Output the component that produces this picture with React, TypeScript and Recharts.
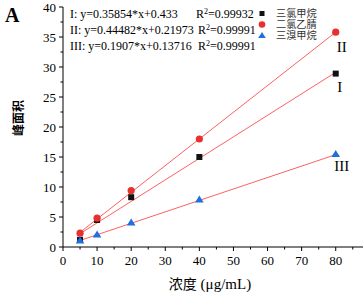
import React from "react";
import { ComposedChart, Scatter, XAxis, YAxis, Customized, LabelList } from "recharts";

const concentrations = [5, 10, 20, 40, 80];
const seriesI = [1.2, 4.5, 8.3, 15.0, 28.9];
const seriesII = [2.3, 4.8, 9.4, 18.0, 35.8];
const seriesIII = [1.1, 2.1, 4.1, 7.9, 15.5];
const seriesNames = ["三氯甲烷", "二氯乙腈", "三溴甲烷"];
const romanLabels = ["I", "II", "III"];
const equations = ["I: y=0.35854*x+0.433", "II: y=0.44482*x+0.21973", "III: y=0.1907*x+0.13716"];
const r2Values = ["0.99932", "0.99991", "0.99991"];
const slopes = [0.35854, 0.44482, 0.1907];
const intercepts = [0.433, 0.21973, 0.13716];
const fitRange = [5, 80];
const xTicks = [0, 5, 10, 15, 20, 25, 30, 35, 40, 45, 50, 55, 60, 65, 70, 75, 80, 85];
const yTicks = [0, 2.5, 5, 7.5, 10, 12.5, 15, 17.5, 20, 22.5, 25, 27.5, 30, 32.5, 35, 37.5, 40];

const SERIF = "'Liberation Serif', 'Times New Roman', serif";
const CJK = "'Noto Sans CJK SC', sans-serif";
const LINE_COLOR = "#ff6060";
const COLORS = ["#111111", "#e8312f", "#1f6fdc"];

const toPoints = (vals: number[]) => concentrations.map((x, i) => ({ x, y: vals[i] }));
const fitPoints = (k: number) => fitRange.map((x) => ({ x, y: slopes[k] * x + intercepts[k] }));

const Square = (p: any) => <rect x={p.cx - 3} y={p.cy - 3} width={6} height={6} fill={COLORS[0]} />;
const Circle = (p: any) => <circle cx={p.cx} cy={p.cy} r={3.6} fill={COLORS[1]} />;
const Triangle = (p: any) => (
  <path d={`M${p.cx},${p.cy - 4} L${p.cx + 4.3},${p.cy + 3} L${p.cx - 4.3},${p.cy + 3} Z`} fill={COLORS[2]} />
);
const NoShape = () => null;

const XTick = (props: any) => {
  const { x, y, payload } = props;
  const major = payload.value % 10 === 0;
  return (
    <g>
      <line x1={x} x2={x} y1={y} y2={y + (major ? 4 : 2.5)} stroke="#000" strokeWidth={1} />
      {major && payload.value <= 80 && (
        <text x={x} y={y + 18} textAnchor="middle" fontFamily={SERIF} fontSize={13} fill="#000">
          {payload.value}
        </text>
      )}
    </g>
  );
};

const YTick = (props: any) => {
  const { x, y, payload } = props;
  const major = payload.value % 5 === 0;
  return (
    <g>
      <line x1={x} x2={x - (major ? 4 : 2.5)} y1={y} y2={y} stroke="#000" strokeWidth={1} />
      {major && (
        <text x={x - 7} y={y + 4.5} textAnchor="end" fontFamily={SERIF} fontSize={13} fill="#000">
          {payload.value}
        </text>
      )}
    </g>
  );
};

const makeEndLabel = (k: number, dx: number, dy: number) => (props: any) => {
  const { x, y, index, width, height } = props;
  if (index !== concentrations.length - 1) return null;
  const cx = x + (width || 0) / 2;
  const cy = y + (height || 0) / 2;
  return (
    <text x={cx + dx} y={cy + dy} textAnchor="middle" fontFamily={SERIF} fontSize={15} fill="#000">
      {romanLabels[k]}
    </text>
  );
};

const Overlay = () => {
  const eqY = [17.5, 33.5, 50];
  const legY = [13.5, 24.5, 35.5];
  return (
    <g>
      <text x={5} y={22} fontFamily={SERIF} fontSize={20} fontWeight="bold" fill="#000">A</text>
      {equations.map((e, i) => (
        <text key={"e" + i} x={70} y={eqY[i]} fontFamily={SERIF} fontSize={12} fill="#000">{e}</text>
      ))}
      {r2Values.map((r, i) => (
        <text key={"r" + i} x={i === 0 ? 196 : 198} y={eqY[i]} fontFamily={SERIF} fontSize={12} fill="#000">
          R<tspan dy={-4} fontSize={8}>2</tspan><tspan dy={4}>={r}</tspan>
        </text>
      ))}
      <rect x={259.5} y={legY[0] - 2.5} width={5} height={5} fill={COLORS[0]} />
      <circle cx={262} cy={legY[1]} r={3.3} fill={COLORS[1]} />
      <path d={`M262,${legY[2] - 3.5} L265.8,${legY[2] + 2.5} L258.2,${legY[2] + 2.5} Z`} fill={COLORS[2]} />
      <text fontFamily={CJK} fontSize={10.2} fill="#333">
        {seriesNames.map((n, i) => (
          <tspan key={"n" + i} x={276} y={legY[i] + 3.8}>{n}</tspan>
        ))}
      </text>
      <text
        x={17}
        y={118}
        transform="rotate(-90 17 118)"
        textAnchor="middle"
        dominantBaseline="central"
        fontFamily={CJK}
        fontSize={12}
        fontWeight="bold"
        fill="#000"
      >
        峰面积
      </text>
      <text x={210} y={289} textAnchor="middle" fontFamily={SERIF} fontSize={15} fill="#000">
        <tspan fontFamily={CJK} fontSize={14}>浓度</tspan> (μg/mL)
      </text>
    </g>
  );
};

export default function App() {
  return (
    <div style={{ position: "absolute", left: 0, top: 0, width: 364, height: 292, background: "#fff" }}>
      <ComposedChart width={364} height={292} margin={{ top: 7, right: 1, bottom: 0, left: 0 }}>
        <XAxis
          type="number"
          dataKey="x"
          domain={[0, 88]}
          ticks={xTicks}
          interval={0}
          height={45}
          tickSize={0}
          tickMargin={0}
          tickLine={false}
          tick={<XTick />}
          axisLine={{ stroke: "#000", strokeWidth: 1 }}
          allowDataOverflow
        />
        <YAxis
          type="number"
          dataKey="y"
          domain={[0, 40]}
          ticks={yTicks}
          interval={0}
          width={63}
          tickSize={0}
          tickMargin={0}
          tickLine={false}
          tick={<YTick />}
          axisLine={{ stroke: "#000", strokeWidth: 1 }}
          allowDataOverflow
        />
        {[0, 1, 2].map((k) => (
          <Scatter
            key={"fit" + k}
            data={fitPoints(k)}
            line={{ stroke: LINE_COLOR, strokeWidth: 1 }}
            shape={<NoShape />}
            isAnimationActive={false}
          />
        ))}
        <Scatter data={toPoints(seriesI)} shape={<Square />} isAnimationActive={false}>
          <LabelList dataKey="y" content={makeEndLabel(0, 4, 18)} />
        </Scatter>
        <Scatter data={toPoints(seriesII)} shape={<Circle />} isAnimationActive={false}>
          <LabelList dataKey="y" content={makeEndLabel(1, 6, 20)} />
        </Scatter>
        <Scatter data={toPoints(seriesIII)} shape={<Triangle />} isAnimationActive={false}>
          <LabelList dataKey="y" content={makeEndLabel(2, 6, 17)} />
        </Scatter>
        <Customized component={<Overlay />} />
      </ComposedChart>
    </div>
  );
}
